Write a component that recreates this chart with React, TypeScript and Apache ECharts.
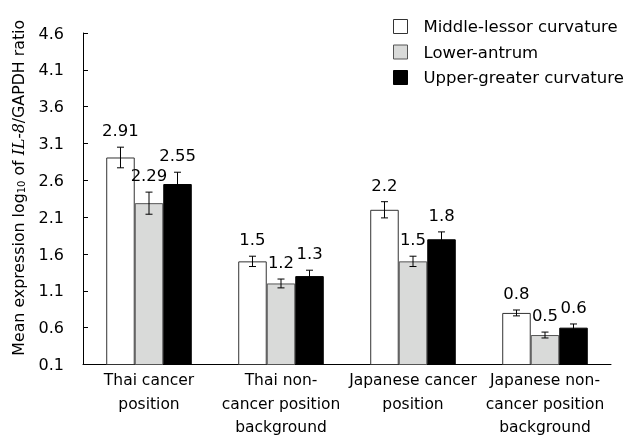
import React, { useEffect, useRef } from "react";
import * as echarts from "echarts";

const categories = [
  "Thai cancer\nposition",
  "Thai non-\ncancer position\nbackground",
  "Japanese cancer\nposition",
  "Japanese non-\ncancer position\nbackground",
];
const seriesNames = ["Middle-lessor curvature", "Lower-antrum", "Upper-greater curvature"];
const middleValues = [2.91, 1.5, 2.2, 0.8];
const lowerValues = [2.29, 1.2, 1.5, 0.5];
const upperValues = [2.55, 1.3, 1.8, 0.6];
const middleErrors = [0.14, 0.07, 0.11, 0.04];
const lowerErrors = [0.15, 0.06, 0.07, 0.04];
const upperErrors = [0.16, 0.08, 0.1, 0.05];
const yMin = 0.1;
const yMax = 4.6;
const yStep = 0.5;

const FONT = "DejaVu Sans";
const colors = ["#ffffff", "#d9dad9", "#000000"];
const borders = ["#333333", "#555555", "#000000"];
const BAR_FRAC = 0.216;

export default function App() {
  const ref = useRef<HTMLDivElement>(null);
  useEffect(() => {
    if (!ref.current) return;
    const chart = echarts.init(ref.current, null, { renderer: "svg" });
    const values = [middleValues, lowerValues, upperValues];
    const errors = [middleErrors, lowerErrors, upperErrors];

    const barSeries = values.map((vals, i) => ({
      type: "bar",
      name: seriesNames[i],
      data: vals,
      barWidth: BAR_FRAC * 100 + "%",
      barGap: "0%",
      itemStyle: { color: colors[i], borderColor: borders[i], borderWidth: 1 },
      z: 2,
    }));

    const errSeries = values.map((vals, i) => ({
      type: "custom",
      name: "err" + i,
      z: 5,
      data: vals.map((v, k) => [k, v, errors[i][k]]),
      renderItem: (params: any, api: any) => {
        const idx = api.value(0);
        const v = api.value(1);
        const e = api.value(2);
        const c = api.coord([idx, v]);
        const catW = api.size([1, 0])[0];
        const cx = c[0] + (i - 1) * catW * BAR_FRAC;
        const top = api.coord([idx, v + e])[1];
        const bot = api.coord([idx, v - e])[1];
        const cap = 3.5;
        const ls = { stroke: "#000", lineWidth: 1 };
        return {
          type: "group",
          children: [
            { type: "line", shape: { x1: cx, y1: top, x2: cx, y2: bot }, style: ls },
            { type: "line", shape: { x1: cx - cap, y1: top, x2: cx + cap, y2: top }, style: ls },
            { type: "line", shape: { x1: cx - cap, y1: bot, x2: cx + cap, y2: bot }, style: ls },
            {
              type: "text",
              x: cx,
              y: top - 8,
              style: {
                text: String(v),
                fill: "#000",
                font: `16.5px "${FONT}"`,
                align: "center",
                verticalAlign: "bottom",
              },
            },
          ],
        };
      },
    }));

    chart.setOption({
      animation: false,
      textStyle: { fontFamily: FONT },
      grid: { left: 83, right: 14, top: 33, bottom: 70 },
      legend: {
        orient: "vertical",
        left: 388,
        top: 13,
        icon: "rect",
        itemWidth: 14,
        itemHeight: 14,
        itemGap: 8.5,
        textStyle: { fontFamily: FONT, fontSize: 16.5, color: "#000", padding: [0, 0, 0, 11] },
        data: seriesNames.map((n, i) => ({
          name: n,
          itemStyle: { color: colors[i], borderColor: borders[i], borderWidth: 1 },
        })),
      },
      xAxis: {
        type: "category",
        data: categories,
        axisLine: { lineStyle: { color: "#000", width: 1 } },
        axisTick: { inside: true, length: 5, lineStyle: { color: "#000" } },
        axisLabel: {
          interval: 0,
          color: "#000",
          fontFamily: FONT,
          fontSize: 15.5,
          lineHeight: 23.5,
          margin: 4,
        },
      },
      yAxis: {
        type: "value",
        min: yMin,
        max: yMax,
        interval: yStep,
        splitLine: { show: false },
        axisLine: { show: true, lineStyle: { color: "#000", width: 1 } },
        axisTick: { show: true, inside: true, length: 5, lineStyle: { color: "#000" } },
        axisLabel: {
          color: "#000",
          fontFamily: FONT,
          fontSize: 16,
          margin: 19,
          formatter: (v: number) => v.toFixed(1),
        },
        name: "{a|Mean expression log}{s|10}{a| of }{i|IL-8}{a|/GAPDH ratio}",
        nameLocation: "middle",
        nameGap: 57,
        nameTextStyle: {
          color: "#000",
          padding: [0, 0, 0, 22],
          rich: {
            a: { fontFamily: FONT, fontSize: 15.8, color: "#000" },
            s: { fontFamily: FONT, fontSize: 10, color: "#000", verticalAlign: "bottom", padding: [6, 0, 0, 0] },
            i: { fontFamily: "DejaVu Serif", fontStyle: "italic", fontSize: 15.8, color: "#000" },
          },
        },
      },
      series: [...barSeries, ...errSeries],
    });
    return () => chart.dispose();
  }, []);
  return (
    <div
      ref={ref}
      style={{ width: 625, height: 439, position: "fixed", left: 0, top: 0 }}
    />
  );
}
